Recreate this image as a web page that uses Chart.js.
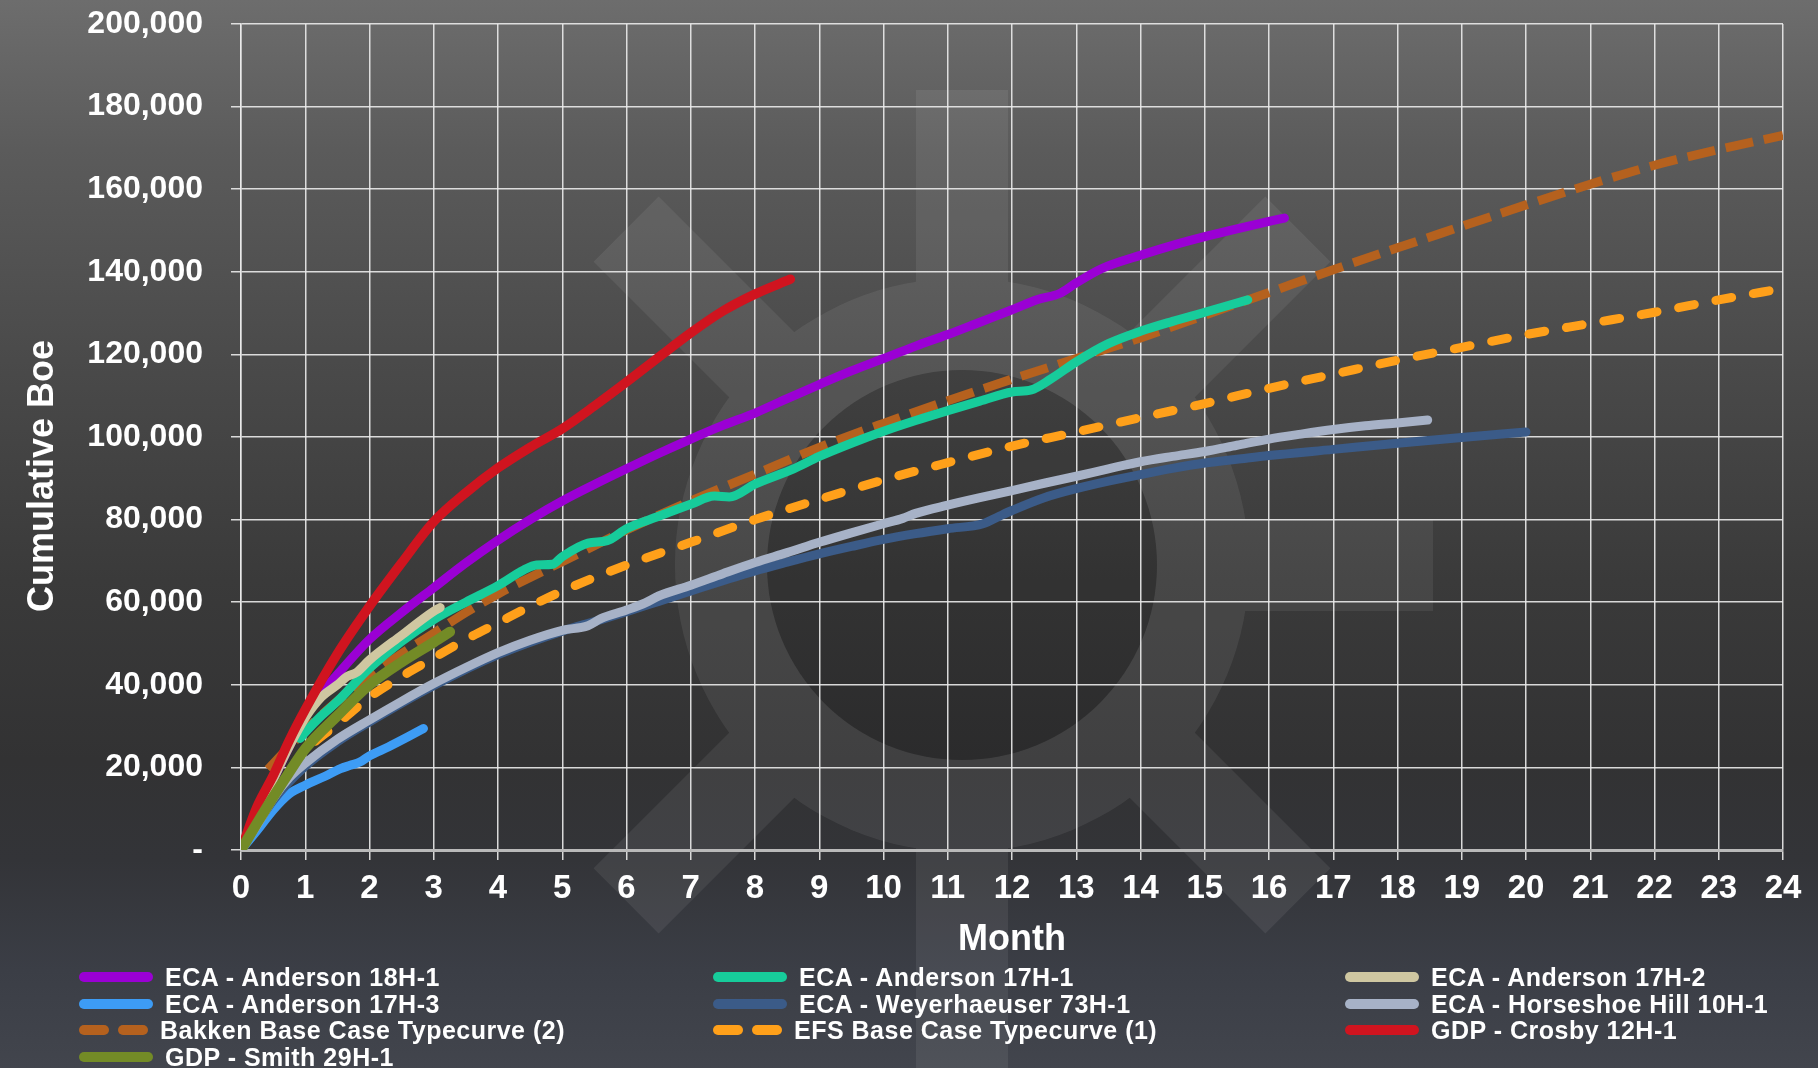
<!DOCTYPE html>
<html>
<head>
<meta charset="utf-8">
<title>Cumulative Boe by Month</title>
<script src="https://cdn.jsdelivr.net/npm/chart.js@4/dist/chart.umd.min.js"></script>
<style>
  html, body { margin: 0; padding: 0; overflow: hidden; }
  #stage {
    position: relative; width: 1818px; height: 1068px; overflow: hidden;
    background: linear-gradient(to bottom, #6d6d6d 0px, #5b5b5b 150px, #4a4a4a 360px,
      #3a3a3a 580px, #323233 760px, #333438 860px, #3b3e46 970px, #42454d 1068px);
    font-family: 'Liberation Sans', Arial, sans-serif;
  }
  #chart { position: absolute; left: 0; top: 0; }
  #legend { position: absolute; left: 0; top: 0; width: 1818px; height: 1068px; pointer-events: none; }
  .item { position: absolute; height: 28px; display: flex; align-items: center; white-space: nowrap; }
  .swatch { width: 74px; height: 10px; display: flex; justify-content: space-between; align-items: center; }
  .swatch .solid { width: 74px; height: 10px; border-radius: 5px; }
  .swatch .dash { width: 30px; height: 10px; border-radius: 5px; }
  .label { margin-left: 12px; color: #ffffff; font-weight: bold; font-size: 25px; letter-spacing: 0.5px; }
</style>
</head>
<body>
<div id="stage">
  <canvas id="chart" width="1818" height="1068"></canvas>
  <div id="legend"></div>
</div>
<script>
// ---- Cumulative production (Boe) by producing month ----
const anderson18Months = [0, 0.25, 0.5, 0.75, 1, 1.25, 1.5, 2, 2.5, 3, 3.5, 4, 4.5, 5, 5.5, 6, 6.5, 7, 7.5, 8, 8.5, 9, 9.5, 10, 10.5, 11, 11.5, 12, 12.4, 12.75, 13, 13.4, 14, 14.5, 15, 15.5, 16, 16.24];
const anderson18Boe = [0, 9500, 17000, 25000, 32500, 38000, 42500, 51000, 57500, 63500, 69500, 75000, 80000, 84500, 88500, 92300, 96000, 99500, 102800, 105800, 109300, 112700, 116000, 119000, 122000, 124800, 127800, 130800, 133300, 134800, 137300, 140800, 144000, 146400, 148500, 150400, 152200, 153000];

const anderson17h1Months = [0.92, 1, 1.25, 1.5, 2, 2.5, 3, 3.5, 4, 4.4, 4.6, 4.85, 5, 5.4, 5.7, 6, 6.5, 7, 7.37, 7.6, 8, 8.6, 9, 9.5, 10, 10.5, 11, 11.5, 12, 12.3, 12.6, 13, 13.5, 14, 14.5, 15, 15.67];
const anderson17h1Boe = [27000, 28500, 32500, 36000, 44000, 50500, 55800, 60000, 64000, 67800, 69000, 69200, 71000, 74300, 74900, 77800, 80800, 83700, 85700, 85500, 88600, 92300, 95300, 98500, 101400, 104000, 106400, 108700, 110900, 111400, 114000, 118200, 122600, 125600, 128000, 130200, 133200];

const anderson17h2Months = [0, 0.25, 0.5, 0.75, 1, 1.25, 1.5, 1.65, 1.8, 2, 2.5, 3, 3.1];
const anderson17h2Boe = [0, 9000, 17000, 25000, 32000, 37000, 40000, 42000, 43000, 46000, 52000, 57800, 58700];

const anderson17h3Months = [0, 0.15, 0.3, 0.5, 0.75, 1, 1.3, 1.55, 1.7, 1.85, 2, 2.3, 2.6, 2.84];
const anderson17h3Boe = [0, 2800, 5700, 9700, 13600, 15700, 17800, 19700, 20500, 21300, 22800, 25000, 27400, 29400];

const weyerhaeuserMonths = [0, 0.5, 1, 1.5, 2, 3, 4, 5, 5.5, 6, 6.5, 7, 7.5, 8, 8.5, 9, 9.5, 10, 10.5, 11, 11.55, 11.8, 12, 12.5, 13, 13.5, 14, 14.5, 15, 15.5, 16, 17, 18, 19, 20];
const weyerhaeuserBoe = [0, 12000, 20300, 26200, 31000, 39800, 47300, 53000, 55300, 57700, 60200, 62700, 65200, 67600, 69700, 71700, 73500, 75200, 76600, 77800, 79000, 80800, 82200, 85300, 87500, 89300, 90900, 92400, 93700, 94600, 95500, 97000, 98500, 99900, 101200];

const horseshoeMonths = [0, 0.25, 0.5, 0.75, 1, 1.5, 2, 2.5, 3, 3.5, 4, 4.5, 5, 5.4, 5.6, 6, 6.3, 6.5, 7, 7.5, 8, 8.5, 9, 9.5, 10, 10.3, 10.5, 11, 11.5, 12, 12.5, 13, 13.5, 14, 14.5, 15, 15.5, 16, 16.5, 17, 17.5, 18, 18.47];
const horseshoeBoe = [0, 6000, 12500, 17500, 21000, 26800, 31500, 36000, 40300, 44200, 47800, 50800, 53200, 54300, 56000, 58100, 59900, 61500, 64100, 66900, 69600, 72000, 74500, 76800, 79000, 80300, 81500, 83500, 85300, 87000, 88800, 90500, 92300, 94000, 95300, 96500, 98000, 99500, 100700, 101800, 102700, 103400, 104100];

const bakkenTypeMonths = [0.42, 1, 1.5, 2, 2.5, 3, 3.5, 4, 4.5, 5, 6, 7, 8, 9, 10, 11, 12, 13, 14, 15, 16, 17, 18, 19, 20, 21, 22, 23, 24];
const bakkenTypeBoe = [19500, 29000, 36000, 42000, 47500, 52500, 57500, 62000, 66000, 69800, 77500, 84500, 91000, 97500, 103300, 108800, 114000, 119000, 124000, 129500, 135000, 140500, 145800, 151000, 156200, 161200, 165800, 169600, 173000];

const efsTypeMonths = [0.42, 0.75, 1, 1.5, 2, 2.5, 3, 3.5, 4, 4.5, 5, 6, 7, 8, 9, 10, 11, 12, 13, 14, 15, 16, 17, 18, 19, 20, 21, 22, 23, 24];
const efsTypeBoe = [12000, 19000, 24000, 30500, 37000, 42000, 46500, 51000, 55000, 59000, 62700, 69000, 74500, 80000, 84900, 89600, 93800, 97800, 101200, 104700, 108100, 111800, 115200, 118600, 121700, 124800, 127500, 130200, 133200, 136000];

const crosbyMonths = [0, 0.25, 0.5, 0.75, 1, 1.5, 2, 2.5, 3, 3.5, 4, 4.5, 5, 5.5, 6, 6.5, 7, 7.5, 8, 8.55];
const crosbyBoe = [0, 10500, 18000, 26500, 34000, 47500, 59000, 69500, 79500, 86500, 92500, 97500, 102000, 107500, 113300, 119300, 125200, 130500, 134600, 138200];

const smithMonths = [0, 0.25, 0.5, 0.75, 1, 1.5, 2, 2.5, 3, 3.25];
const smithBoe = [0, 6500, 12800, 18800, 24500, 32500, 40000, 45500, 50300, 52800];

// Axis ticks
const monthTicks = [0, 1, 2, 3, 4, 5, 6, 7, 8, 9, 10, 11, 12, 13, 14, 15, 16, 17, 18, 19, 20, 21, 22, 23, 24];
const boeTicks = [0, 20000, 40000, 60000, 80000, 100000, 120000, 140000, 160000, 180000, 200000];

const seriesNames = [
  'ECA - Anderson 18H-1', 'ECA - Anderson 17H-1', 'ECA - Anderson 17H-2',
  'ECA - Anderson 17H-3', 'ECA - Weyerhaeuser 73H-1', 'ECA - Horseshoe Hill 10H-1',
  'Bakken Base Case Typecurve (2)', 'EFS Base Case Typecurve (1)', 'GDP - Crosby 12H-1',
  'GDP - Smith 29H-1'
];
const seriesColors = ['#9a00d4', '#17cc9b', '#cfc7a1', '#3d9cf5', '#3b5b88', '#a7b2c7', '#b5611e', '#ffa01a', '#d0141f', '#738b26'];
const seriesWidths = [9, 9, 9, 9, 9, 9, 9, 9, 9.5, 10.5];
const seriesDashes = [[], [], [], [], [], [], [28, 11], [16, 22], [], []];
const seriesCaps = ['round', 'round', 'round', 'round', 'round', 'round', 'butt', 'round', 'round', 'round'];
const seriesMonths = [anderson18Months, anderson17h1Months, anderson17h2Months, anderson17h3Months, weyerhaeuserMonths, horseshoeMonths, bakkenTypeMonths, efsTypeMonths, crosbyMonths, smithMonths];
const seriesBoe = [anderson18Boe, anderson17h1Boe, anderson17h2Boe, anderson17h3Boe, weyerhaeuserBoe, horseshoeBoe, bakkenTypeBoe, efsTypeBoe, crosbyBoe, smithBoe];

const FONT = "'Liberation Sans', Arial, sans-serif";
Chart.defaults.font.family = FONT;

const datasets = seriesNames.map((name, i) => {
  const isTypecurve = seriesDashes[i].length > 0;
  return {
    label: name,
    data: seriesMonths[i].map((m, k) => ({ x: m, y: seriesBoe[i][k] })),
    borderColor: seriesColors[i],
    backgroundColor: seriesColors[i],
    borderWidth: seriesWidths[i],
    borderDash: seriesDashes[i],
    borderCapStyle: seriesCaps[i],
    borderJoinStyle: 'round',
    pointRadius: 0,
    fill: false,
    cubicInterpolationMode: 'monotone',
    // typecurves sit underneath the well curves; later wells paint over earlier ones
    order: isTypecurve ? 100 - i : seriesNames.length - i
  };
});

// Faint company emblem painted behind the grid
const emblem = {
  id: 'emblem',
  beforeDraw(chart) {
    const ctx = chart.ctx;
    const cx = 962, cy = 565, R = 287, r = 195, half = 46, reach = 475;
    const off = document.createElement('canvas');
    off.width = chart.width; off.height = chart.height;
    const o = off.getContext('2d');
    o.fillStyle = '#ffffff';
    o.beginPath(); o.arc(cx, cy, R, 0, Math.PI * 2); o.fill();
    o.fillRect(cx - half, cy - reach, half * 2, reach);
    o.fillRect(cx - half, cy, half * 2, chart.height);
    o.fillRect(cx, cy - half, reach - 4, half * 2);
    [45, 135, 225, 315].forEach(a => {
      o.save(); o.translate(cx, cy); o.rotate(a * Math.PI / 180);
      o.fillRect(0, -half, reach, half * 2);
      o.restore();
    });
    o.globalCompositeOperation = 'destination-out';
    o.beginPath(); o.arc(cx, cy, r, 0, Math.PI * 2); o.fill();
    ctx.save();
    ctx.globalAlpha = 0.07;
    ctx.drawImage(off, 0, 0);
    ctx.globalAlpha = 1;
    ctx.fillStyle = 'rgba(0,0,0,0.12)';
    ctx.beginPath(); ctx.arc(cx, cy, r, 0, Math.PI * 2); ctx.fill();
    ctx.restore();
  }
};

// Vertical axis caption, placed beside the value labels
const valueCaption = {
  id: 'valueCaption',
  afterDraw(chart) {
    const ctx = chart.ctx;
    ctx.save();
    ctx.translate(43, 476);
    ctx.rotate(-Math.PI / 2);
    ctx.font = 'bold 36px ' + FONT;
    ctx.fillStyle = '#ffffff';
    ctx.textAlign = 'center';
    ctx.textBaseline = 'middle';
    ctx.fillText('Cumulative Boe', 0, 0);
    ctx.restore();
  }
};

const gridColor = 'rgba(235,235,235,0.9)';

const chart = new Chart(document.getElementById('chart'), {
  type: 'line',
  data: { datasets },
  options: {
    responsive: false,
    animation: false,
    events: [],
    layout: { padding: { top: 24, right: 35, bottom: 105, left: 0 } },
    plugins: { legend: { display: false }, tooltip: { enabled: false } },
    scales: {
      x: {
        type: 'linear', min: monthTicks[0], max: monthTicks[monthTicks.length - 1],
        afterBuildTicks(scale) { scale.ticks = monthTicks.map(v => ({ value: v })); },
        afterFit(scale) { scale.height = 113; },
        ticks: {
          color: '#ffffff', padding: 9, maxRotation: 0, autoSkip: false,
          font: { size: 33, weight: 'bold' }
        },
        grid: { color: gridColor, lineWidth: 1.5, tickLength: 10, tickColor: gridColor },
        border: { color: '#b9b9b9', width: 3 },
        title: {
          display: true, text: 'Month', color: '#ffffff',
          font: { size: 36, weight: 'bold' }, padding: { top: 0, bottom: 1 }
        }
      },
      y: {
        type: 'linear', min: boeTicks[0], max: boeTicks[boeTicks.length - 1],
        afterBuildTicks(scale) { scale.ticks = boeTicks.map(v => ({ value: v })); },
        afterFit(scale) {
          scale.width = 241;
          scale.paddingTop = 0;
          scale.paddingBottom = 0;
        },
        ticks: {
          color: '#ffffff', padding: 28,
          font: { size: 32, weight: 'bold' },
          callback: v => v === 0 ? '-' : v.toLocaleString('en-US')
        },
        grid: { color: gridColor, lineWidth: 1.5, tickLength: 10, tickColor: gridColor },
        border: { color: gridColor, width: 1.5 }
      }
    }
  },
  plugins: [emblem, valueCaption]
});

// Three-column legend built from the chart's datasets
const legendColumns = [79, 713, 1345];
const legendRows = [963, 990, 1016, 1043];
const legendBox = document.getElementById('legend');
chart.data.datasets.forEach((ds, i) => {
  const item = document.createElement('div');
  item.className = 'item';
  item.style.left = legendColumns[i % 3] + 'px';
  item.style.top = legendRows[Math.floor(i / 3)] + 'px';
  const sw = document.createElement('div');
  sw.className = 'swatch';
  if (ds.borderDash && ds.borderDash.length) {
    for (let k = 0; k < 2; k++) {
      const d = document.createElement('div');
      d.className = 'dash';
      d.style.background = ds.borderColor;
      sw.appendChild(d);
    }
    sw.style.width = '69px';
  } else {
    const s = document.createElement('div');
    s.className = 'solid';
    s.style.background = ds.borderColor;
    sw.appendChild(s);
  }
  const label = document.createElement('span');
  label.className = 'label';
  label.textContent = ds.label;
  item.appendChild(sw);
  item.appendChild(label);
  legendBox.appendChild(item);
});
</script>
</body>
</html>
